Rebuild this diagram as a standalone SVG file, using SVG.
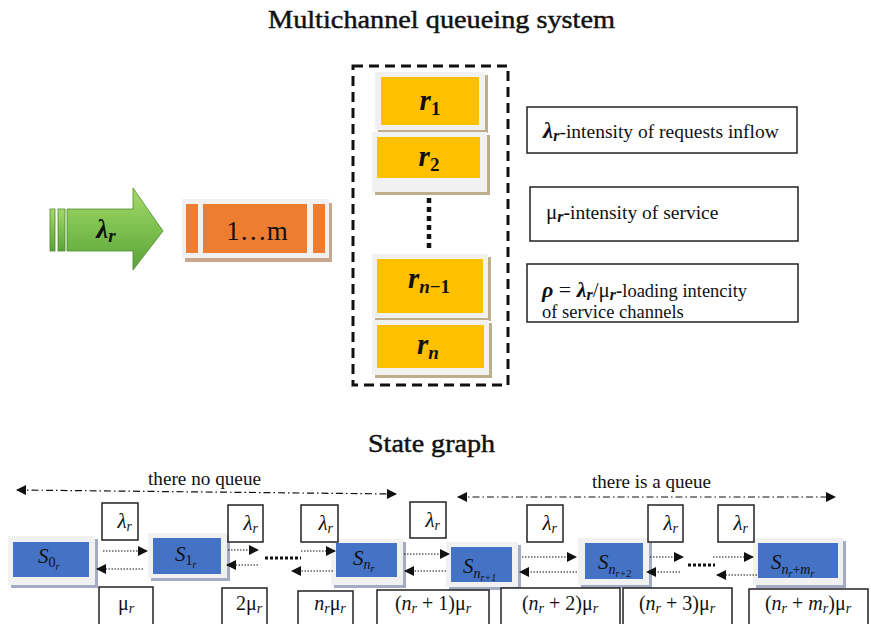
<svg xmlns="http://www.w3.org/2000/svg" width="871" height="624" viewBox="0 0 871 624">
  <defs>
    <style>
      .serif { font-family: "Liberation Serif", "DejaVu Serif", serif; fill: #111; }
      .math { font-family: "Liberation Serif", "DejaVu Serif", serif; font-style: italic; fill: #111; }
      .heading { stroke: #111; stroke-width: 0.45; }
      .lbl { fill: #fff; stroke: #222; stroke-width: 1.5; }
      .frame { fill: #f1f1f1; }
      .shadowY { fill: #bdae8c; }
      .shadowB { fill: #a3acc4; }
      .shadowO { fill: #c9a68e; }
      .blue { fill: #4472c4; }
      .yellow { fill: #ffc000; }
      .orange { fill: #ed7d31; }
      .flow { stroke: #111; stroke-width: 1.2; stroke-dasharray: 1.5 1.5; fill: none; }
      .dots { stroke: #111; stroke-width: 3; stroke-dasharray: 3 2; fill: none; }
      .span { stroke: #111; stroke-width: 1.2; stroke-dasharray: 7 3 1.5 3; fill: none; }
    </style>
    <marker id="tip" viewBox="0 0 10 10" refX="9" refY="5" markerWidth="11" markerHeight="10" markerUnits="userSpaceOnUse" orient="auto-start-reverse">
      <path d="M0,0 L10,5 L0,10 Z" fill="#111"/>
    </marker>
    <linearGradient id="greenFill" x1="0" y1="0" x2="0" y2="1">
      <stop offset="0" stop-color="#a6d96a"/>
      <stop offset="0.5" stop-color="#7cc04f"/>
      <stop offset="1" stop-color="#5aa33a"/>
    </linearGradient>
    <clipPath id="c3"><rect x="451" y="547" width="61" height="35"/></clipPath>
    <clipPath id="c4"><rect x="585" y="543" width="58" height="36"/></clipPath>
    <clipPath id="c5"><rect x="758" y="543" width="80" height="35"/></clipPath>
  </defs>

  <rect width="871" height="624" fill="#fff"/>

  <!-- Titles -->
  <text class="serif heading" x="268" y="28" font-size="25" textLength="347" lengthAdjust="spacingAndGlyphs">Multichannel queueing system</text>
  <text class="serif heading" x="368" y="452" font-size="25" textLength="127" lengthAdjust="spacingAndGlyphs">State graph</text>

  <!-- Incoming flow arrow -->
  <g id="inflow">
    <rect x="50" y="209" width="5" height="42" fill="url(#greenFill)" stroke="#4e8a2c" stroke-width="0.8"/>
    <rect x="58" y="209" width="7" height="42" fill="url(#greenFill)" stroke="#4e8a2c" stroke-width="0.8"/>
    <path d="M67,209 H133 V188 L163,231 L133,270 V251 H67 Z" fill="url(#greenFill)" stroke="#4e8a2c" stroke-width="0.8"/>
    <text class="math" x="106" y="238" font-size="27" font-weight="bold" text-anchor="middle">λ<tspan font-size="19" dy="4">r</tspan></text>
  </g>

  <!-- Queue buffer -->
  <g id="queue">
    <rect class="shadowO" x="185" y="203" width="147" height="59"/>
    <rect class="frame" x="182" y="199" width="147" height="59"/>
    <rect class="orange" x="186" y="204" width="12" height="49"/>
    <rect class="orange" x="203" y="204" width="104" height="49"/>
    <rect class="orange" x="313" y="204" width="12" height="49"/>
    <text class="serif" x="257" y="240" font-size="27" text-anchor="middle">1…m</text>
  </g>

  <!-- Service channels -->
  <g id="channels">
    <rect x="353" y="66" width="155" height="319" fill="none" stroke="#111" stroke-width="3" stroke-dasharray="10 6"/>
    <g id="r1">
      <rect class="shadowY" x="378" y="75" width="110" height="58"/>
      <rect class="frame" x="375" y="72" width="110" height="58"/>
      <rect class="yellow" x="381" y="77" width="98" height="48"/>
      <text class="math" x="430" y="110" font-size="29" font-weight="bold" text-anchor="middle">r<tspan font-size="19" font-style="normal" dy="5">1</tspan></text>
    </g>
    <g id="r2">
      <rect class="shadowY" x="375" y="135" width="115" height="60"/>
      <rect class="frame" x="372" y="132" width="115" height="60"/>
      <rect class="yellow" x="377" y="137" width="103" height="41"/>
      <text class="math" x="429" y="166" font-size="29" font-weight="bold" text-anchor="middle">r<tspan font-size="19" font-style="normal" dy="5">2</tspan></text>
    </g>
    <line x1="429" y1="198" x2="429" y2="248" stroke="#111" stroke-width="4.5" stroke-dasharray="5 4"/>
    <g id="rn-1">
      <rect class="shadowY" x="375" y="257" width="116" height="64"/>
      <rect class="frame" x="372" y="254" width="116" height="64"/>
      <rect class="yellow" x="377" y="259" width="106" height="54"/>
      <text class="math" x="429" y="288" font-size="29" font-weight="bold" text-anchor="middle">r<tspan font-size="19" dy="5">n</tspan><tspan font-size="19" font-style="normal">−1</tspan></text>
    </g>
    <g id="rn">
      <rect class="shadowY" x="375" y="323" width="117" height="55"/>
      <rect class="frame" x="372" y="320" width="117" height="55"/>
      <rect class="yellow" x="377" y="325" width="107" height="43"/>
      <text class="math" x="428" y="354" font-size="29" font-weight="bold" text-anchor="middle">r<tspan font-size="19" dy="5">n</tspan></text>
    </g>
  </g>

  <!-- Legend -->
  <g id="legend-lambda">
    <rect class="lbl" x="527" y="107" width="270" height="46"/>
    <text class="serif" x="543" y="138" font-size="19.5"><tspan class="math" font-size="23" font-weight="bold">λ</tspan><tspan class="math" font-size="16" font-weight="bold" dy="3">r</tspan><tspan dy="-3">-intensity of requests inflow</tspan></text>
  </g>
  <g id="legend-mu">
    <rect class="lbl" x="530" y="187" width="268" height="54"/>
    <text class="serif" x="546" y="219" font-size="19.5"><tspan font-size="21">μ</tspan><tspan class="math" font-size="16" font-weight="bold" dy="3">r</tspan><tspan dy="-3" font-weight="bold">-</tspan>intensity of service</text>
  </g>
  <g id="legend-rho">
    <rect class="lbl" x="527" y="264" width="271" height="58"/>
    <text class="serif" x="542" y="297" font-size="18.5"><tspan class="math" font-size="22" font-weight="bold">ρ</tspan><tspan font-size="22"> = </tspan><tspan class="math" font-size="22" font-weight="bold">λ</tspan><tspan class="math" font-size="16" font-weight="bold" dy="3">r</tspan><tspan font-size="21" dy="-3">/μ</tspan><tspan class="math" font-size="16" font-weight="bold" dy="3">r</tspan><tspan dy="-3" font-weight="bold">-</tspan>loading intencity</text>
    <text class="serif" x="542" y="318" font-size="18.5">of service channels</text>
  </g>

  <!-- Range spans -->
  <g id="spans">
    <line class="span" x1="17" y1="490" x2="396" y2="494" marker-start="url(#tip)" marker-end="url(#tip)"/>
    <text class="serif" x="148" y="485" font-size="18" textLength="113" lengthAdjust="spacingAndGlyphs">there no queue</text>
    <line class="span" x1="458" y1="497" x2="835" y2="497" marker-start="url(#tip)" marker-end="url(#tip)"/>
    <text class="serif" x="592" y="488" font-size="18" textLength="119" lengthAdjust="spacingAndGlyphs">there is a queue</text>
  </g>

  <!-- States -->
  <g id="s0">
    <rect class="shadowB" x="11" y="539" width="87" height="49"/>
    <rect class="frame" x="8" y="536" width="87" height="49"/>
    <rect class="blue" x="13" y="542" width="76" height="35"/>
    <text class="math" x="38" y="563" font-size="21">S<tspan font-size="14" font-style="normal" dy="4">0</tspan><tspan font-size="10" dy="3">r</tspan></text>
  </g>
  <g id="s1">
    <rect class="shadowB" x="151" y="536" width="79" height="45"/>
    <rect class="frame" x="148" y="533" width="79" height="45"/>
    <rect class="blue" x="153" y="538" width="68" height="36"/>
    <text class="math" x="175" y="561" font-size="21">S<tspan font-size="14" font-style="normal" dy="4">1</tspan><tspan font-size="10" dy="3">r</tspan></text>
  </g>
  <g id="sn">
    <rect class="shadowB" x="334" y="542" width="72" height="46"/>
    <rect class="frame" x="331" y="539" width="72" height="46"/>
    <rect class="blue" x="336" y="543" width="61" height="34"/>
    <text class="math" x="353" y="565" font-size="21">S<tspan font-size="14" dy="4">n</tspan><tspan font-size="10" dy="3">r</tspan></text>
  </g>
  <g id="sn1">
    <rect class="shadowB" x="449" y="545" width="72" height="45"/>
    <rect class="frame" x="446" y="542" width="72" height="45"/>
    <rect class="blue" x="451" y="547" width="61" height="35"/>
    <text class="math" x="463" y="573" font-size="21" clip-path="url(#c3)">S<tspan font-size="14" dy="5">n</tspan><tspan font-size="10" dy="3">r+1</tspan></text>
  </g>
  <g id="sn2">
    <rect class="shadowB" x="581" y="541" width="71" height="47"/>
    <rect class="frame" x="578" y="538" width="71" height="47"/>
    <rect class="blue" x="585" y="543" width="58" height="36"/>
    <text class="math" x="598" y="569" font-size="21" clip-path="url(#c4)">S<tspan font-size="14" dy="5">n</tspan><tspan font-size="10" dy="3">r+2</tspan></text>
  </g>
  <g id="snm">
    <rect class="shadowB" x="756" y="541" width="90" height="47"/>
    <rect class="frame" x="753" y="538" width="90" height="47"/>
    <rect class="blue" x="758" y="543" width="80" height="35"/>
    <text class="math" x="771" y="569" font-size="21" clip-path="url(#c5)">S<tspan font-size="14" dy="5">n</tspan><tspan font-size="10" dy="3">r</tspan><tspan font-size="14" font-style="normal" dy="-3">+</tspan><tspan font-size="14">m</tspan><tspan font-size="10" dy="3">r</tspan></text>
  </g>

  <!-- Transition connectors -->
  <g id="connectors">
    <line class="flow" x1="103" y1="551" x2="147" y2="551" marker-end="url(#tip)"/>
    <line class="flow" x1="143" y1="569" x2="97" y2="569" marker-end="url(#tip)"/>
    <line class="flow" x1="228" y1="550" x2="258" y2="550" marker-end="url(#tip)"/>
    <line class="flow" x1="258" y1="565" x2="227" y2="565" marker-end="url(#tip)"/>
    <line class="dots" x1="265" y1="558" x2="301" y2="558"/>
    <line class="flow" x1="301" y1="551" x2="335" y2="551" marker-end="url(#tip)"/>
    <line class="flow" x1="333" y1="571" x2="292" y2="571" marker-end="url(#tip)"/>
    <line class="flow" x1="404" y1="554" x2="449" y2="554" marker-end="url(#tip)"/>
    <line class="flow" x1="446" y1="571" x2="405" y2="571" marker-end="url(#tip)"/>
    <line class="flow" x1="522" y1="557" x2="576" y2="557" marker-end="url(#tip)"/>
    <line class="flow" x1="577" y1="572" x2="520" y2="572" marker-end="url(#tip)"/>
    <line class="flow" x1="650" y1="557" x2="683" y2="557" marker-end="url(#tip)"/>
    <line class="flow" x1="680" y1="572" x2="647" y2="572" marker-end="url(#tip)"/>
    <line class="dots" x1="688" y1="565" x2="715" y2="565"/>
    <line class="flow" x1="713" y1="557" x2="753" y2="557" marker-end="url(#tip)"/>
    <line class="flow" x1="757" y1="575" x2="717" y2="575" marker-end="url(#tip)"/>
  </g>

  <!-- Arrival rate labels -->
  <g id="lambda-labels">
    <rect class="lbl" x="102" y="503" width="36" height="37"/>
    <text class="math" x="132" y="528" font-size="21" text-anchor="end">λ<tspan font-size="14" dy="3">r</tspan></text>
    <rect class="lbl" x="228" y="505" width="35" height="37"/>
    <text class="math" x="258" y="530" font-size="21" text-anchor="end">λ<tspan font-size="14" dy="3">r</tspan></text>
    <rect class="lbl" x="301" y="505" width="37" height="37"/>
    <text class="math" x="333" y="530" font-size="21" text-anchor="end">λ<tspan font-size="14" dy="3">r</tspan></text>
    <rect class="lbl" x="410" y="502" width="36" height="36"/>
    <text class="math" x="440" y="527" font-size="21" text-anchor="end">λ<tspan font-size="14" dy="3">r</tspan></text>
    <rect class="lbl" x="527" y="505" width="36" height="37"/>
    <text class="math" x="557" y="530" font-size="21" text-anchor="end">λ<tspan font-size="14" dy="3">r</tspan></text>
    <rect class="lbl" x="648" y="505" width="35" height="37"/>
    <text class="math" x="678" y="530" font-size="21" text-anchor="end">λ<tspan font-size="14" dy="3">r</tspan></text>
    <rect class="lbl" x="718" y="505" width="36" height="37"/>
    <text class="math" x="748" y="530" font-size="21" text-anchor="end">λ<tspan font-size="14" dy="3">r</tspan></text>
  </g>

  <!-- Service rate labels -->
  <g id="mu-labels">
    <rect class="lbl" x="99" y="587" width="54" height="45"/>
    <text class="serif" x="126" y="610" font-size="20" text-anchor="middle">μ<tspan class="math" font-size="14" dy="3">r</tspan></text>
    <rect class="lbl" x="222" y="588" width="45" height="45"/>
    <text class="serif" x="249" y="610" font-size="20" text-anchor="middle">2μ<tspan class="math" font-size="14" dy="3">r</tspan></text>
    <rect class="lbl" x="298" y="591" width="55" height="45"/>
    <text class="serif" x="330" y="610" font-size="20" text-anchor="middle"><tspan class="math">n</tspan><tspan class="math" font-size="14" dy="3">r</tspan><tspan dy="-3">μ</tspan><tspan class="math" font-size="14" dy="3">r</tspan></text>
    <rect class="lbl" x="377" y="590" width="112" height="45"/>
    <text class="serif" x="433" y="610" font-size="20" text-anchor="middle">(<tspan class="math">n</tspan><tspan class="math" font-size="14" dy="3">r</tspan><tspan dy="-3"> + 1)μ</tspan><tspan class="math" font-size="14" dy="3">r</tspan></text>
    <rect class="lbl" x="501" y="588" width="119" height="45"/>
    <text class="serif" x="560" y="610" font-size="20" text-anchor="middle">(<tspan class="math">n</tspan><tspan class="math" font-size="14" dy="3">r</tspan><tspan dy="-3"> + 2)μ</tspan><tspan class="math" font-size="14" dy="3">r</tspan></text>
    <rect class="lbl" x="623" y="588" width="109" height="45"/>
    <text class="serif" x="677" y="610" font-size="20" text-anchor="middle">(<tspan class="math">n</tspan><tspan class="math" font-size="14" dy="3">r</tspan><tspan dy="-3"> + 3)μ</tspan><tspan class="math" font-size="14" dy="3">r</tspan></text>
    <rect class="lbl" x="749" y="589" width="119" height="45"/>
    <text class="serif" x="808" y="610" font-size="20" text-anchor="middle">(<tspan class="math">n</tspan><tspan class="math" font-size="14" dy="3">r</tspan><tspan dy="-3"> + </tspan><tspan class="math">m</tspan><tspan class="math" font-size="14" dy="3">r</tspan><tspan dy="-3">)μ</tspan><tspan class="math" font-size="14" dy="3">r</tspan></text>
  </g>
</svg>
